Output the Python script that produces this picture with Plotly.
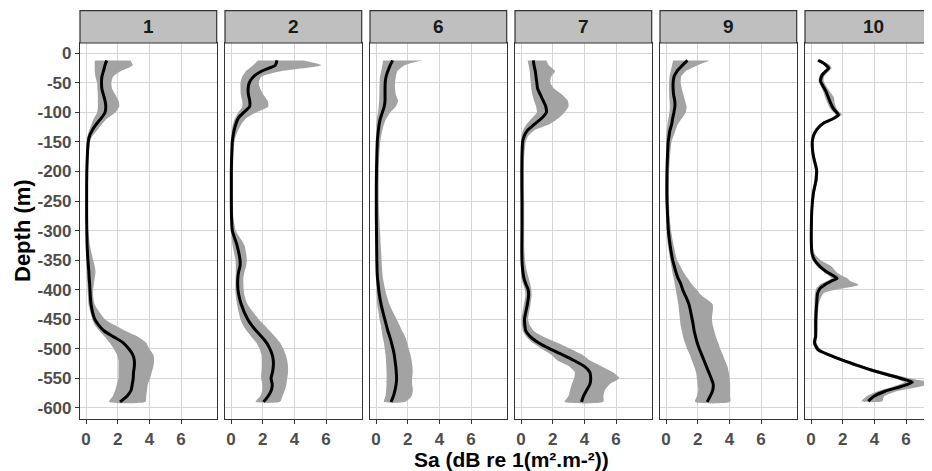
import plotly.graph_objects as go

stations = ["1", "2", "6", "7", "9", "10"]

depth = [-12, -20, -30, -40, -50, -60, -70, -80, -90, -100, -110, -120, -130, -140, -150,
         -175, -200, -225, -250, -275, -300, -325, -350, -360, -370, -380, -390, -400, -410, -425,
         -450, -460, -470, -480, -490, -500, -510, -520, -530, -540, -550, -560, -570, -580, -590]

sa_1 = [1.3, 1.2, 1.1, 1.0, 0.98, 1.0, 1.1, 1.2, 1.25, 1.2, 0.95, 0.65, 0.4, 0.22, 0.14,
        0.08, 0.05, 0.04, 0.04, 0.04, 0.05, 0.07, 0.12, 0.15, 0.18, 0.2, 0.23, 0.25, 0.27, 0.32,
        0.55, 0.8, 1.15, 1.75, 2.35, 2.7, 2.95, 3.05, 3.05, 3.0, 2.98, 2.92, 2.85, 2.6, 2.15]
lo_1 = [0.55, 0.55, 0.55, 0.6, 0.7, 0.72, 0.75, 0.75, 0.75, 0.7, 0.5, 0.35, 0.2, 0.1, 0.05,
        0.02, 0.0, 0.0, 0.0, 0.0, 0.0, 0.0, 0.02, 0.03, 0.05, 0.06, 0.08, 0.1, 0.12, 0.16,
        0.4, 0.55, 0.85, 1.2, 1.5, 1.75, 1.95, 2.05, 2.05, 2.05, 2.05, 1.95, 1.85, 1.7, 1.45]
hi_1 = [2.8, 2.95, 2.2, 1.7, 1.6, 1.65, 1.85, 2.05, 2.1, 1.85, 1.35, 1.0, 0.7, 0.4, 0.25,
        0.16, 0.13, 0.12, 0.12, 0.12, 0.14, 0.25, 0.45, 0.55, 0.6, 0.55, 0.5, 0.45, 0.45, 0.55,
        1.2, 1.8, 2.5, 3.3, 3.8, 4.0, 4.25, 4.3, 4.25, 4.15, 4.05, 3.9, 3.85, 3.8, 3.75]

sa_2 = [2.9, 2.8, 1.95, 1.4, 1.15, 1.08, 1.1, 1.18, 1.18, 0.8, 0.45, 0.3, 0.2, 0.13, 0.08,
        0.04, 0.02, 0.02, 0.02, 0.03, 0.08, 0.38, 0.57, 0.57, 0.48, 0.43, 0.42, 0.44, 0.5, 0.65,
        1.05, 1.3, 1.6, 1.95, 2.25, 2.45, 2.6, 2.67, 2.67, 2.62, 2.53, 2.6, 2.55, 2.35, 2.05]
lo_2 = [1.7, 1.4, 0.95, 0.7, 0.6, 0.6, 0.62, 0.7, 0.72, 0.46, 0.25, 0.12, 0.06, 0.03, 0.01,
        0.0, 0.0, 0.0, 0.0, 0.0, 0.0, 0.1, 0.28, 0.3, 0.3, 0.29, 0.28, 0.28, 0.3, 0.38,
        0.6, 0.75, 1.0, 1.3, 1.6, 1.8, 1.92, 1.94, 1.94, 1.92, 1.9, 1.98, 1.98, 1.85, 1.55]
hi_2 = [4.6, 5.7, 3.2, 1.9, 1.75, 1.85, 2.05, 2.3, 2.35, 1.6, 0.95, 0.65, 0.45, 0.3, 0.22,
        0.15, 0.13, 0.13, 0.13, 0.14, 0.3, 0.85, 1.0, 0.95, 0.85, 0.78, 0.78, 0.8, 0.85, 1.05,
        1.75, 2.1, 2.45, 2.8, 3.1, 3.3, 3.45, 3.55, 3.6, 3.6, 3.55, 3.5, 3.4, 3.25, 3.1]

sa_6 = [1.05, 0.9, 0.75, 0.63, 0.58, 0.57, 0.57, 0.57, 0.52, 0.4, 0.28, 0.2, 0.15, 0.11, 0.08,
        0.05, 0.03, 0.02, 0.02, 0.02, 0.03, 0.04, 0.05, 0.06, 0.07, 0.09, 0.13, 0.17, 0.22, 0.32,
        0.55, 0.65, 0.75, 0.87, 0.98, 1.07, 1.15, 1.2, 1.25, 1.28, 1.3, 1.27, 1.2, 1.1, 0.95]
lo_6 = [0.45, 0.4, 0.33, 0.25, 0.23, 0.22, 0.21, 0.2, 0.17, 0.12, 0.06, 0.03, 0.02, 0.01, 0.0,
        0.0, 0.0, 0.0, 0.0, 0.0, 0.0, 0.0, 0.0, 0.0, 0.0, 0.01, 0.02, 0.03, 0.05, 0.08,
        0.23, 0.3, 0.36, 0.42, 0.5, 0.55, 0.6, 0.63, 0.65, 0.67, 0.67, 0.66, 0.64, 0.6, 0.5]
hi_6 = [2.9, 1.8, 1.35, 1.25, 1.2, 1.2, 1.25, 1.4, 1.25, 0.9, 0.65, 0.5, 0.4, 0.32, 0.27,
        0.2, 0.18, 0.17, 0.17, 0.2, 0.25, 0.3, 0.35, 0.37, 0.4, 0.43, 0.5, 0.58, 0.67, 0.85,
        1.3, 1.48, 1.65, 1.85, 1.97, 2.07, 2.17, 2.25, 2.3, 2.32, 2.28, 2.28, 2.33, 2.25, 1.85]

sa_7 = [0.78, 0.82, 0.9, 0.95, 1.0, 1.05, 1.22, 1.4, 1.56, 1.6, 1.3, 0.85, 0.42, 0.2, 0.1,
        0.06, 0.05, 0.05, 0.06, 0.06, 0.06, 0.05, 0.06, 0.08, 0.12, 0.18, 0.3, 0.45, 0.48, 0.4,
        0.22, 0.24, 0.3, 0.6, 1.1, 1.8, 2.6, 3.35, 4.0, 4.35, 4.4, 4.35, 4.15, 3.95, 3.82]
lo_7 = [0.42, 0.48, 0.55, 0.58, 0.62, 0.65, 0.72, 0.82, 0.95, 1.0, 0.68, 0.35, 0.12, 0.04, 0.0,
        0.0, 0.0, 0.0, 0.0, 0.0, 0.0, 0.0, 0.0, 0.0, 0.0, 0.03, 0.12, 0.25, 0.28, 0.18,
        0.04, 0.06, 0.12, 0.35, 0.75, 1.3, 1.9, 2.3, 3.05, 3.4, 3.35, 3.2, 3.1, 3.0, 2.75]
hi_7 = [1.6, 1.75, 2.15, 1.9, 1.85, 2.1, 2.6, 2.95, 3.0, 2.75, 2.35, 1.8, 0.85, 0.45, 0.3,
        0.2, 0.19, 0.19, 0.2, 0.2, 0.2, 0.2, 0.25, 0.3, 0.38, 0.48, 0.58, 0.65, 0.67, 0.6,
        0.45, 0.55, 0.8, 1.45, 2.3, 3.1, 3.85, 4.35, 5.1, 5.8, 6.2, 5.6, 5.3, 5.2, 5.2]

sa_9 = [1.35, 1.05, 0.7, 0.5, 0.45, 0.45, 0.48, 0.55, 0.56, 0.5, 0.42, 0.36, 0.25, 0.19, 0.14,
        0.09, 0.06, 0.05, 0.06, 0.1, 0.15, 0.26, 0.42, 0.52, 0.62, 0.75, 0.93, 1.05, 1.22, 1.45,
        1.65, 1.72, 1.78, 1.87, 1.97, 2.1, 2.25, 2.4, 2.55, 2.7, 2.85, 2.98, 2.95, 2.8, 2.6]
lo_9 = [0.45, 0.38, 0.3, 0.22, 0.2, 0.2, 0.2, 0.22, 0.24, 0.22, 0.15, 0.09, 0.05, 0.02, 0.0,
        0.0, 0.0, 0.0, 0.0, 0.01, 0.04, 0.12, 0.27, 0.33, 0.4, 0.48, 0.55, 0.62, 0.68, 0.78,
        0.88, 0.92, 1.0, 1.08, 1.2, 1.33, 1.5, 1.63, 1.78, 1.9, 1.95, 2.0, 2.04, 1.95, 1.83]
hi_9 = [2.75, 2.0, 1.25, 0.95, 0.93, 1.0, 1.1, 1.2, 1.3, 1.25, 1.0, 0.75, 0.6, 0.47, 0.35,
        0.25, 0.2, 0.19, 0.19, 0.22, 0.32, 0.48, 0.7, 0.9, 1.1, 1.35, 1.6, 1.95, 2.25, 2.95,
        2.9, 2.95, 3.05, 3.15, 3.3, 3.42, 3.58, 3.72, 3.88, 3.96, 4.02, 4.05, 4.05, 4.05, 4.05]

depth_10 = [-12, -16, -20, -25, -30, -35, -40, -47, -55, -65, -75, -85, -95, -104, -110, -118,
            -129, -140, -150, -165, -180, -197, -214, -237, -265, -300, -320, -338, -350, -361,
            -370, -377, -381, -386, -392, -397, -406, -423, -451, -479, -490, -502, -510, -519,
            -527, -536, -544, -552, -557, -564, -572, -581, -589]
sa_10 = [0.45, 0.75, 0.95, 1.12, 0.95, 0.75, 0.65, 0.6, 0.75, 0.95, 1.1, 1.25, 1.45, 1.73, 1.45, 0.8,
         0.36, 0.15, 0.08, 0.1, 0.2, 0.35, 0.32, 0.15, 0.05, 0.02, 0.02, 0.06, 0.22, 0.57,
         1.0, 1.45, 1.65, 1.25, 0.85, 0.6, 0.42, 0.36, 0.3, 0.29, 0.22, 0.46, 1.1, 1.94,
         2.8, 3.8, 4.85, 5.9, 6.4, 5.7, 4.67, 3.95, 3.62]
lo_10 = [0.35, 0.6, 0.8, 0.95, 0.8, 0.62, 0.52, 0.48, 0.6, 0.78, 0.9, 1.05, 1.25, 1.55, 1.25, 0.65,
         0.25, 0.06, 0.0, 0.02, 0.12, 0.25, 0.22, 0.06, 0.0, 0.0, 0.0, 0.0, 0.1, 0.4,
         0.8, 1.15, 1.3, 0.95, 0.55, 0.35, 0.25, 0.22, 0.18, 0.18, 0.12, 0.3, 0.9, 1.7,
         2.5, 3.5, 4.5, 5.5, 5.9, 5.2, 4.2, 3.5, 3.2]
hi_10 = [0.6, 0.95, 1.2, 1.3, 1.15, 0.95, 0.82, 0.8, 0.95, 1.2, 1.45, 1.5, 1.65, 1.95, 1.6, 0.95,
         0.48, 0.25, 0.16, 0.18, 0.3, 0.45, 0.42, 0.24, 0.12, 0.08, 0.1, 0.2, 0.6, 1.3,
         1.6, 2.0, 2.3, 2.5, 3.0, 2.2, 0.8, 0.5, 0.42, 0.4, 0.35, 0.65, 1.35, 2.2,
         3.1, 4.15, 5.3, 6.6, 7.6, 6.9, 5.4, 4.6, 4.5]

x_ticks = [0, 2, 4, 6]
y_ticks = [0, -50, -100, -150, -200, -250, -300, -350, -400, -450, -500, -550, -600]
y_tick_text = ["0", "-50", "-100", "-150", "-200", "-250", "-300", "-350", "-400", "-450",
               "-500", "-550", "-600"]

panels = [
    (depth, sa_1, lo_1, hi_1),
    (depth, sa_2, lo_2, hi_2),
    (depth, sa_6, lo_6, hi_6),
    (depth, sa_7, lo_7, hi_7),
    (depth, sa_9, lo_9, hi_9),
    (depth_10, sa_10, lo_10, hi_10),
]

FONT = "Liberation Sans, Arial, Helvetica, sans-serif"
OFF = 8  # page body margin offset
W, H = 932 - OFF, 471 - OFF
ML = 80 - OFF
MT = 43 - OFF
PLOT_BOTTOM = 419 - OFF
MB = H - PLOT_BOTTOM
PW = W - ML
PH = PLOT_BOTTOM - MT
panel_left_px = [p - OFF for p in [80, 225, 370, 515, 660, 805]]
panel_w = 136.7
x_lo, x_hi = -0.379, 8.25
px_per_unit = panel_w / (x_hi - x_lo)

RIBBON = "#A3A3A3"
BORDER = "#333333"
GRID = "#D6D6D6"
TICKFONT = dict(size=17, color="#4D4D4D", family=FONT, weight="bold")

fig = go.Figure()
layout = dict(
    width=W, height=H, autosize=False,
    margin=dict(l=ML, r=0, t=MT, b=MB, pad=0, autoexpand=False),
    paper_bgcolor="white", plot_bgcolor="white",
    showlegend=False,
    font=dict(family=FONT),
    shapes=[], annotations=[],
)

for i, (d, m, lo, hi) in enumerate(panels):
    n = "" if i == 0 else str(i + 1)
    xa, ya = "x" + n, "y" + n
    fig.add_trace(go.Scatter(
        x=list(hi) + list(lo)[::-1], y=list(d) + list(d)[::-1],
        fill="toself", fillcolor=RIBBON, mode="lines",
        line=dict(width=0, color=RIBBON, shape="spline", smoothing=0.6),
        xaxis=xa, yaxis=ya, hoverinfo="skip"))
    fig.add_trace(go.Scatter(
        x=m, y=d, mode="lines",
        line=dict(color="black", width=3, shape="spline", smoothing=0.6),
        xaxis=xa, yaxis=ya))

    left = panel_left_px[i]
    right = min(left + panel_w, W)
    xr_hi = x_lo + (right - left) / px_per_unit
    dom = [(left - ML) / PW, min((right - ML) / PW, 1.0)]
    layout["xaxis" + n] = dict(
        domain=dom, anchor=ya, range=[x_lo, xr_hi],
        tickvals=x_ticks, ticktext=[str(t) for t in x_ticks],
        ticks="outside", ticklen=4, tickwidth=1, tickcolor=BORDER,
        tickfont=TICKFONT,
        showline=True, linecolor=BORDER, linewidth=1.2, mirror=True,
        showgrid=True, gridcolor=GRID, gridwidth=1.2, zeroline=False, fixedrange=True)
    yax = dict(
        domain=[0, 1], anchor=xa, range=[-619, 17.5],
        tickvals=y_ticks, ticktext=y_tick_text,
        showline=True, linecolor=BORDER, linewidth=1.2, mirror=(i < 5),
        showgrid=True, gridcolor=GRID, gridwidth=1.2, zeroline=False, fixedrange=True)
    if i == 0:
        yax.update(ticks="outside", ticklen=4, tickwidth=1, tickcolor=BORDER,
                   tickfont=TICKFONT)
    else:
        yax.update(ticks="", showticklabels=False, matches="y")
    layout["yaxis" + n] = yax

    # facet strip
    sx0 = (left - ML) / PW
    sx1 = (left + panel_w - ML) / PW
    layout["shapes"].append(dict(
        type="rect", xref="paper", yref="paper", x0=sx0, x1=sx1,
        y0=1.0, y1=(PLOT_BOTTOM - (10.7 - OFF)) / PH,
        fillcolor="#BFBFBF", line=dict(color=BORDER, width=1.2), layer="above"))
    layout["annotations"].append(dict(
        text="<b>%s</b>" % stations[i], xref="paper", yref="paper",
        x=(sx0 + sx1) / 2, y=(PLOT_BOTTOM - (26.7 - OFF)) / PH,
        xanchor="center", yanchor="middle",
        showarrow=False, font=dict(size=19, color="#1A1A1A", family=FONT)))

layout["annotations"].append(dict(
    text="<b>Sa (dB re 1(m².m-²))</b>", xref="paper", yref="paper",
    x=(511 - OFF - ML) / PW, y=(PLOT_BOTTOM - (459 - OFF)) / PH,
    xanchor="center", yanchor="middle",
    showarrow=False, font=dict(size=21, color="black", family=FONT)))
layout["annotations"].append(dict(
    text="<b>Depth (m)</b>", xref="paper", yref="paper",
    x=(22 - OFF - ML) / PW, y=0.5, xanchor="center", yanchor="middle", textangle=-90,
    showarrow=False, font=dict(size=22, color="black", family=FONT)))

fig.update_layout(**layout)
fig.write_html("out.html")
